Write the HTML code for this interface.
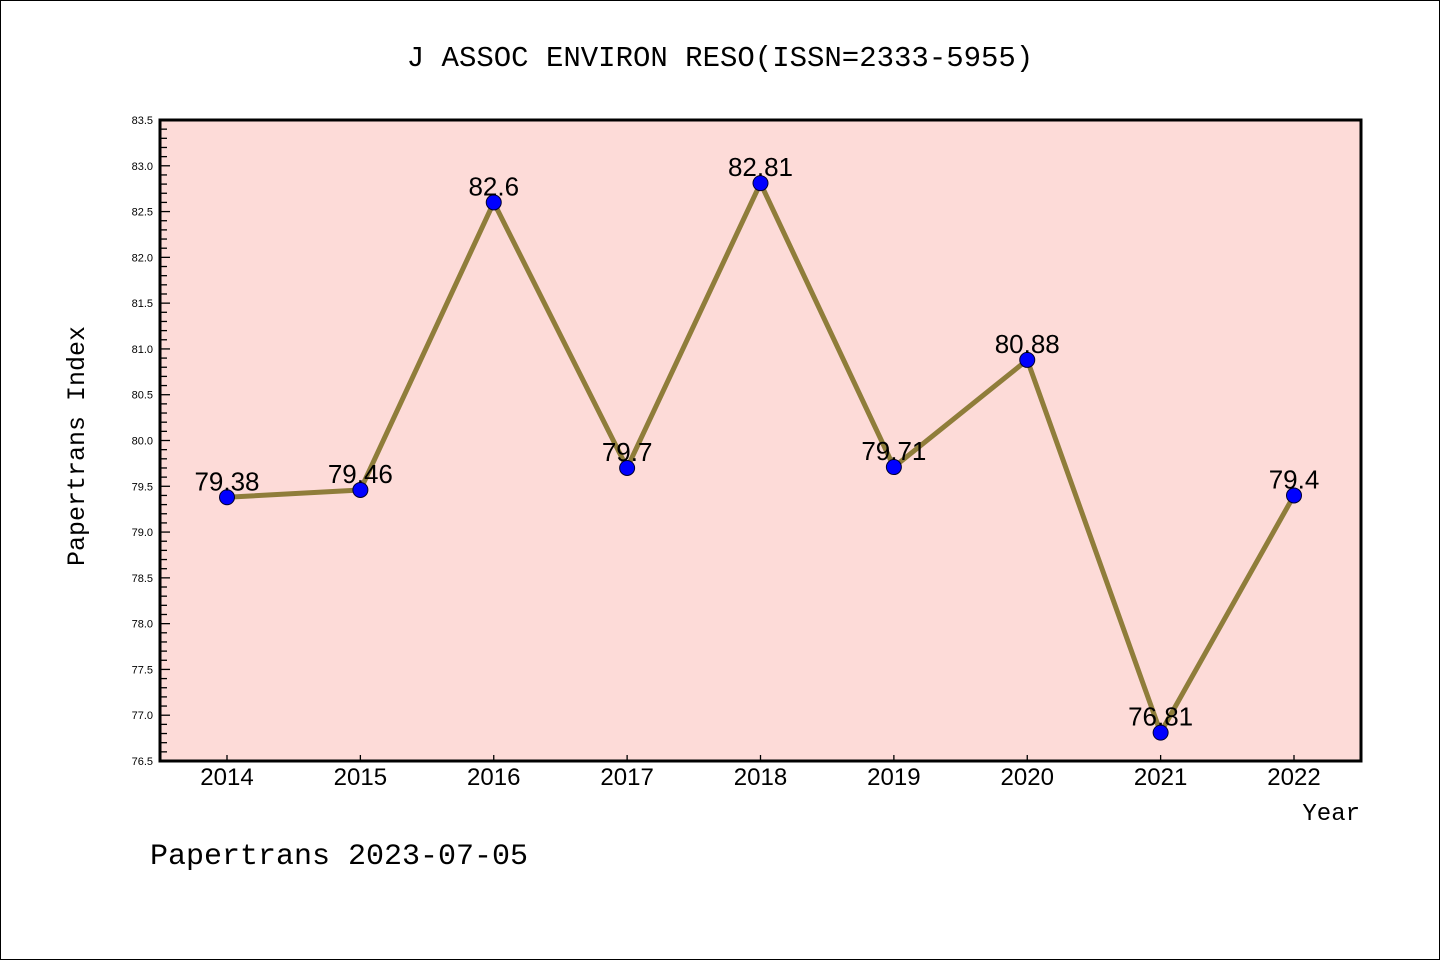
<!DOCTYPE html>
<html><head><meta charset="utf-8"><style>
html,body{margin:0;padding:0;background:#fff}
svg{display:block}
.mono{font-family:"Liberation Mono","WenQuanYi Zen Hei",monospace}
.sans{font-family:"Liberation Sans","WenQuanYi Zen Hei",sans-serif}
</style></head><body>
<svg id="chart" width="1440" height="960" viewBox="0 0 1440 960">
<rect x="0.5" y="0.5" width="1439" height="959" fill="#fff" stroke="#000" stroke-width="1"/>
<text class="mono" x="720" y="66" font-size="29" text-anchor="middle">J ASSOC ENVIRON RESO(ISSN=2333-5955)</text>
<rect x="160" y="120" width="1201" height="641" fill="#fddbd8"/>
<g id="yaxis"></g>
<g id="xaxis"></g>
<g id="series"></g>
<rect x="160" y="120" width="1201" height="641" fill="none" stroke="#000" stroke-width="3"/>
<text class="mono" transform="translate(84,446) rotate(-90)" font-size="25" text-anchor="middle">Papertrans Index</text>
<text class="mono" x="1360" y="820" font-size="24" text-anchor="end">Year</text>
<text class="mono" x="150" y="864" font-size="30">Papertrans 2023-07-05</text>
</svg>
<script>
const categories=["2014","2015","2016","2017","2018","2019","2020","2021","2022"];
const values=[79.38,79.46,82.6,79.7,82.81,79.71,80.88,76.81,79.4];
const valueLabels=["79.38","79.46","82.6","79.7","82.81","79.71","80.88","76.81","79.4"];
const yTicks=["76.5","77.0","77.5","78.0","78.5","79.0","79.5","80.0","80.5","81.0","81.5","82.0","82.5","83.0","83.5"];
const yMin=76.5,yMax=83.5,plotTop=120,plotBot=761,plotLeft=160;
const NS="http://www.w3.org/2000/svg";
function yPos(v){return plotBot-(v-yMin)/(yMax-yMin)*(plotBot-plotTop);}
function xPos(i){return 227+i*(1294-227)/(categories.length-1);}
function mk(tag,attrs,parent){const e=document.createElementNS(NS,tag);for(const k in attrs)e.setAttribute(k,attrs[k]);parent.appendChild(e);return e;}
const ya=document.getElementById('yaxis'),xa=document.getElementById('xaxis'),se=document.getElementById('series');
for(let k=0;k<=70;k++){
  const v=yMin+k*0.1;const yy=yPos(v);const major=k%5===0;
  const t=mk('line',{x1:plotLeft,x2:plotLeft+(major?10:7),y1:yy,y2:yy,stroke:'#000','stroke-width':1.3},ya);
  
  
}
yTicks.forEach(s=>{
  const t=mk('text',{x:153,y:yPos(parseFloat(s))+4,'font-size':11,'text-anchor':'end','class':'sans'},ya);
  t.textContent=s;
  
  
});
categories.forEach((c,i)=>{
  const l=mk('line',{x1:xPos(i),x2:xPos(i),y1:plotBot,y2:plotBot-6,stroke:'#000','stroke-width':1.3},xa);
  
  
  const t=mk('text',{x:xPos(i),y:785,'font-size':24,'text-anchor':'middle','class':'sans'},xa);
  t.textContent=c;
  
  
});
const pts=values.map((v,i)=>xPos(i)+','+yPos(v)).join(' ');
const pl=mk('polyline',{points:pts,fill:'none',stroke:'#8f7d3a','stroke-width':5,'stroke-linejoin':'round'},se);


values.forEach((v,i)=>{
  const c=mk('circle',{cx:xPos(i),cy:yPos(v),r:7.5,fill:'#0000ff',stroke:'#000030','stroke-width':1},se);
  
  
});
values.forEach((v,i)=>{
  const t=mk('text',{x:xPos(i),y:yPos(v)-7,'font-size':26,'text-anchor':'middle','class':'sans'},se);
  t.textContent=valueLabels[i];
  
  
});
</script>
</body></html>
